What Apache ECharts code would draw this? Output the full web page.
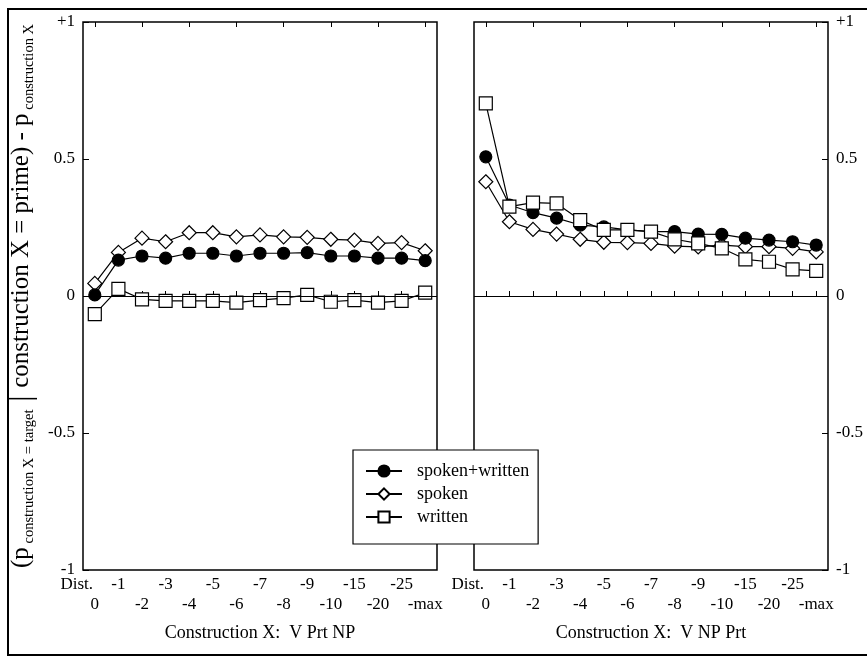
<!DOCTYPE html>
<html>
<head>
<meta charset="utf-8">
<script src="https://cdn.jsdelivr.net/npm/echarts@6/dist/echarts.min.js"></script>
<style>
  html, body { margin: 0; padding: 0; background: #fff; }
  #grafico { width: 867px; height: 658px; }
</style>
</head>
<body>
<div id="grafico"></div>
<script>
// categorias do eixo x (distância)
var categorias = ['0', '-1', '-2', '-3', '-4', '-5', '-6', '-7', '-8', '-9', '-10', '-15', '-20', '-25', '-max'];

// painel esquerdo: V Prt NP
var prtNpAmbos   = [0.004, 0.131, 0.146, 0.138, 0.156, 0.156, 0.146, 0.156, 0.156, 0.158, 0.146, 0.146, 0.138, 0.138, 0.129];
var prtNpFalado  = [0.046, 0.159, 0.211, 0.198, 0.231, 0.231, 0.216, 0.223, 0.216, 0.214, 0.207, 0.204, 0.192, 0.195, 0.165];
var prtNpEscrito = [-0.066, 0.026, -0.012, -0.018, -0.018, -0.018, -0.024, -0.015, -0.008, 0.004, -0.021, -0.015, -0.024, -0.018, 0.012];

// painel direito: V NP Prt
var npPrtAmbos   = [0.508, 0.332, 0.304, 0.284, 0.259, 0.252, 0.241, 0.235, 0.235, 0.226, 0.225, 0.211, 0.204, 0.198, 0.186];
var npPrtFalado  = [0.417, 0.271, 0.243, 0.226, 0.207, 0.196, 0.195, 0.192, 0.182, 0.179, 0.186, 0.180, 0.180, 0.174, 0.161];
var npPrtEscrito = [0.703, 0.326, 0.341, 0.338, 0.277, 0.241, 0.241, 0.235, 0.207, 0.192, 0.174, 0.134, 0.125, 0.097, 0.092];

var nomesSeries = ['spoken+written', 'spoken', 'written'];
var nomesEixoX = ['Construction X:  V Prt NP', 'Construction X:  V NP Prt'];

var fonte = 'Liberation Serif';

function rotuloX(valor, i) {
    if (i === 0) return '{d|Dist.}\n' + valor;
    if (i % 2 === 1) return valor + '\n';
    return '\n' + valor;
}

function eixoX(grid, nome) {
    return {
        type: 'category', gridIndex: grid, data: categorias,
        boundaryGap: true,
        axisLine: { show: false },
        axisTick: { show: true, inside: true, alignWithLabel: true, length: 5, lineStyle: { color: '#000' } },
        axisLabel: {
            interval: 0, margin: 5, color: '#000', fontFamily: fonte, fontSize: 17, lineHeight: 20,
            formatter: rotuloX,
            rich: { d: { fontFamily: fonte, fontSize: 17, color: '#000', padding: [0, 36, 0, 0] } }
        },
        name: nome, nameLocation: 'middle', nameGap: 54,
        nameTextStyle: { color: '#000', fontFamily: fonte, fontSize: 18 }
    };
}

function eixoXTopo(grid) {
    return {
        type: 'category', gridIndex: grid, data: categorias, position: 'top',
        boundaryGap: true,
        axisLine: { show: false },
        axisTick: { show: true, inside: true, alignWithLabel: true, length: 5, lineStyle: { color: '#000' } },
        axisLabel: { show: false }
    };
}

function eixoY(grid, lado) {
    return {
        type: 'value', gridIndex: grid, position: lado,
        min: -1, max: 1, interval: 0.5,
        splitLine: { show: false },
        axisLine: { show: false },
        axisTick: { show: true, inside: true, length: 6, lineStyle: { color: '#000' } },
        axisLabel: {
            color: '#000', fontFamily: fonte, fontSize: 17, margin: 8,
            formatter: function (v) { return v === 1 ? '+1' : String(v); }
        }
    };
}

function serie(nome, dados, eixo, simbolo, preenchido, z, comZero) {
    var s = {
        name: nome, type: 'line', data: dados,
        xAxisIndex: eixo, yAxisIndex: eixo,
        symbol: simbolo,
        symbolSize: simbolo === 'circle' ? 12 : (simbolo === 'diamond' ? 14 : 13),
        z: z,
        lineStyle: { color: '#000', width: 1.2 },
        itemStyle: { color: preenchido ? '#000' : '#fff', borderColor: '#000', borderWidth: 1.2 },
        emphasis: { disabled: true },
        animation: false
    };
    if (comZero) {
        s.markLine = {
            silent: true, symbol: 'none', label: { show: false },
            lineStyle: { color: '#000', type: 'solid', width: 1.2 },
            data: [{ yAxis: 0 }]
        };
    }
    return s;
}

var tituloY = '{m|(p}{s| construction X = target}{b| | }{m|construction X = prime) - p}{s| construction X}';

var grafico = echarts.init(document.getElementById('grafico'));

var option = {
    backgroundColor: '#fff',
    animation: false,
    graphic: [{
        type: 'rect', silent: true,
        shape: { x: 8, y: 9, width: 880, height: 646 },
        style: { fill: 'none', stroke: '#000', lineWidth: 2 }
    }],
    grid: [
        { left: 83, right: 430, top: 22, bottom: 88, show: true, borderColor: '#000', borderWidth: 1.5, backgroundColor: '#fff' },
        { left: 474, right: 39, top: 22, bottom: 88, show: true, borderColor: '#000', borderWidth: 1.5, backgroundColor: '#fff' }
    ],
    xAxis: [eixoX(0, nomesEixoX[0]), eixoX(1, nomesEixoX[1]), eixoXTopo(0), eixoXTopo(1)],
    yAxis: [
        Object.assign(eixoY(0, 'left'), {
            name: tituloY, nameLocation: 'middle', nameRotate: 90, nameGap: 46,
            nameTextStyle: {
                color: '#000', fontFamily: fonte, fontSize: 25,
                rich: {
                    m: { fontFamily: fonte, fontSize: 25, color: '#000' },
                    s: { fontFamily: fonte, fontSize: 14.5, color: '#000', verticalAlign: 'bottom' },
                    b: { fontFamily: fonte, fontSize: 31, color: '#000' }
                }
            }
        }),
        eixoY(1, 'right')
    ],
    legend: {
        data: nomesSeries, orient: 'vertical', left: 353, top: 450,
        backgroundColor: '#fff', borderColor: '#000', borderWidth: 1.2,
        padding: [12, 9, 18, 12], itemGap: 5, itemWidth: 36, itemHeight: 14,
        textStyle: { color: '#000', fontFamily: fonte, fontSize: 18, padding: [0, 0, 0, 10] },
        selectedMode: false
    },
    series: [
        serie(nomesSeries[0], prtNpAmbos, 0, 'circle', true, 3, true),
        serie(nomesSeries[1], prtNpFalado, 0, 'diamond', false, 2, false),
        serie(nomesSeries[2], prtNpEscrito, 0, 'rect', false, 4, false),
        serie(nomesSeries[0], npPrtAmbos, 1, 'circle', true, 3, true),
        serie(nomesSeries[1], npPrtFalado, 1, 'diamond', false, 2, false),
        serie(nomesSeries[2], npPrtEscrito, 1, 'rect', false, 4, false)
    ]
};

grafico.setOption(option);
</script>
</body>
</html>
